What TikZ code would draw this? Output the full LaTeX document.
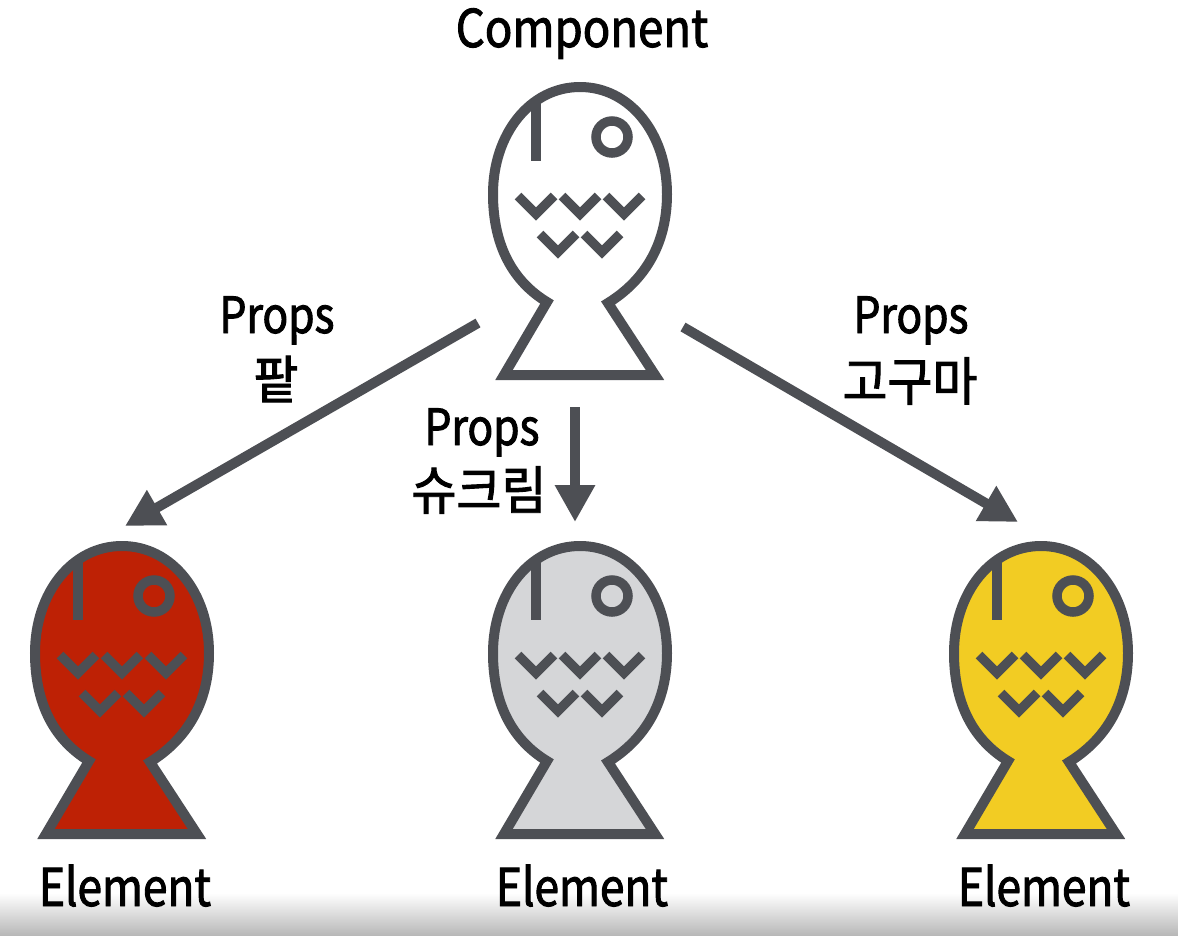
\documentclass[tikz,border=0pt]{standalone}
\usepackage{fontspec}
\setmainfont{Noto Sans CJK KR}[FakeBold=1.8,FakeStretch=0.85]
\newfontfamily\korean{Noto Sans CJK KR}[FakeBold=1.8,FakeStretch=0.94]
\usepackage{xcolor}
\usetikzlibrary{arrows.meta}
\definecolor{slate}{HTML}{4D4F54}
\definecolor{beanred}{HTML}{BE2105}
\definecolor{creamgray}{HTML}{D5D6D8}
\definecolor{yamyellow}{HTML}{F2CC23}
\definecolor{barshade}{HTML}{B8B8B8}
\tikzset{
    fish/.pic={
        % Body and tail
        \draw[line width=10pt, draw=slate, pic actions] (-33,105) -- (-76,178) -- (75,178) -- (28,106)
            .. controls (62,85) and (87,50) .. (87,-3)
            .. controls (87,-63) and (50,-110) .. (0,-110)
            .. controls (-50,-110) and (-87,-63) .. (-87,-3)
            .. controls (-87,50) and (-66,85) .. (-33,105) -- cycle;
        % Fin
        \draw[line width=9.5pt, draw=slate] (-44,-99) -- (-44,-36);
        % Eye
        \draw[line width=9.5pt, draw=slate] (32,-60) circle (16);
        % Scales
        \foreach \x in {-44,0,44} {
            \draw[line width=9.5pt, draw=slate] (\x-18,-1) -- (\x,17) -- (\x+18,-1);
        }
        \foreach \x in {-22,22} {
            \draw[line width=9.5pt, draw=slate] (\x-18,37) -- (\x,55) -- (\x+18,37);
        }
    },
    label/.style={font=\fontsize{52}{52}\selectfont, black, inner sep=0pt, anchor=base},
    propslabel/.style={label, font=\fontsize{50}{50}\selectfont},
    korlabel/.style={black, inner sep=0pt, font=\fontsize{52}{52}\selectfont\korean},
    link/.style={-{Triangle[length=37pt,width=38pt]}, line width=10pt, slate}
}
\begin{document}
\begin{tikzpicture}[x=1pt,y=-1pt]
    \useasboundingbox (0,0) rectangle (1178,935);
    \fill[white] (0,0) rectangle (1178,935);

    % Grey bar along the bottom
    \shade[top color=white, bottom color=barshade] (0,893) rectangle (1178,935);

    % Fish
    \pic[fill=white] at (580,197) {fish};
    \pic[fill=beanred] at (122,656) {fish};
    \pic[fill=creamgray] at (580,656) {fish};
    \pic[fill=yamyellow] at (1041,656) {fish};

    % Arrows
    \coordinate (startl) at (478,323);
    \coordinate (startm) at (575,407);
    \coordinate (startr) at (683,327);
    \coordinate (endl) at (125,526);
    \coordinate (endm) at (575,522);
    \coordinate (endr) at (1018,522);
    \draw[link] (startl) -- (endl);
    \draw[link] (startm) -- (endm);
    \draw[link] (startr) -- (endr);

    % Labels
    \node[label, font=\fontsize{52}{52}\selectfont\addfontfeature{FakeStretch=0.875}] (component) at (582,47) {Component};
    \node[propslabel] (propsl) at (277,333) {Props};
    \node[korlabel] (beanl) at (276,379) {팥};
    \node[propslabel] (propsm) at (482,445) {Props};
    \node[korlabel] (creamm) at (479,490) {슈크림};
    \node[propslabel] (propsr) at (911,333) {Props};
    \node[korlabel] (yamr) at (910,381) {고구마};
    \node[label] (elementl) at (125,906) {Element};
    \node[label] (elementm) at (582,906) {Element};
    \node[label] (elementr) at (1044,906) {Element};
\end{tikzpicture}
\end{document}
